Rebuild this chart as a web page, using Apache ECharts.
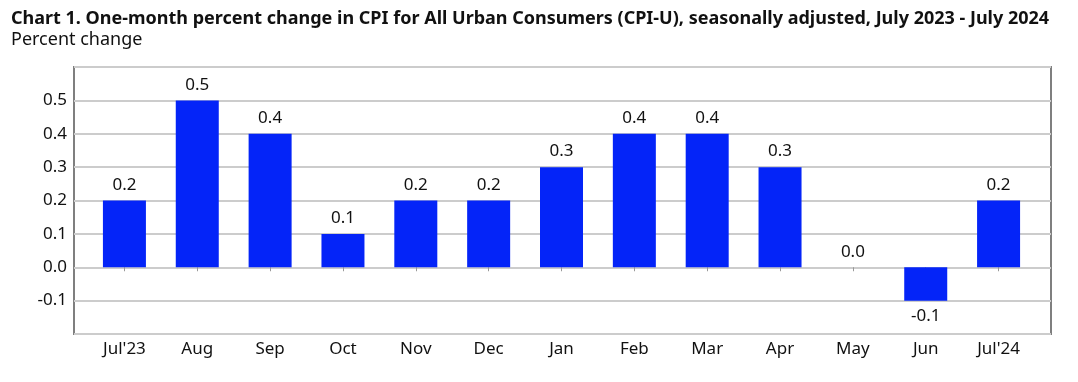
<!DOCTYPE html>
<html><head><meta charset="utf-8">
<script src="https://cdn.jsdelivr.net/npm/echarts@6/dist/echarts.min.js"></script>
<style>html,body{margin:0;padding:0;background:#fff}#c{width:1078px;height:382px}</style>
</head><body><div id="c"></div>
<script>
const categories = ["Jul'23","Aug","Sep","Oct","Nov","Dec","Jan","Feb","Mar","Apr","May","Jun","Jul'24"];
const values = [0.2,0.5,0.4,0.1,0.2,0.2,0.3,0.4,0.4,0.3,0.0,-0.1,0.2];
const yTickLabels = ["-0.1","0.0","0.1","0.2","0.3","0.4","0.5"];
const titleText = "Chart 1. One-month percent change in CPI for All Urban Consumers (CPI-U), seasonally adjusted, July 2023 - July 2024";
const subtitleText = "Percent change";

const FONT = "Noto Sans";
const chart = echarts.init(document.getElementById('c'), null, {renderer:'canvas'});
const yMin = -0.2, yMax = 0.6;
chart.setOption({
  animation:false,
  textStyle:{fontFamily:FONT},
  title:{text:titleText, subtext:subtitleText, left:6, top:5, itemGap:3,
    textStyle:{fontFamily:FONT,fontSize:18,fontWeight:'bold',color:'#111'},
    subtextStyle:{fontFamily:FONT,fontSize:18,color:'#111'}},
  grid:[
    {left:74,right:27,top:67,bottom:48,show:true,borderColor:'#7f7f7f',borderWidth:2,backgroundColor:'transparent'},
    {left:88,right:43,top:67,bottom:48}
  ],
  xAxis:[
    {gridIndex:0,type:'value',min:0,max:1,show:false},
    {gridIndex:1,type:'category',data:categories,boundaryGap:true,
      axisLine:{show:false},
      axisTick:{show:true,alignWithLabel:true,length:4,inside:false,lineStyle:{color:'#999'}},
      axisLabel:{fontSize:17,color:'#111',margin:7,fontFamily:FONT}}
  ],
  yAxis:[
    {gridIndex:0,type:'value',min:yMin,max:yMax,interval:0.1,
      axisLine:{show:false},axisTick:{show:false},
      splitLine:{show:true,lineStyle:{color:'#cccccc',width:2}},
      axisLabel:{fontSize:17,color:'#111',margin:7,fontFamily:FONT,
        formatter:v=>{const s=v.toFixed(1);return yTickLabels.includes(s)?s:'';}}},
    {gridIndex:1,type:'value',min:yMin,max:yMax,interval:0.1,show:false,splitLine:{show:false}}
  ],
  series:[{
    type:'bar',xAxisIndex:1,yAxisIndex:1,barWidth:43,
    data:values.map(v=>({value:v,label:{position:v<0?'bottom':'top'}})),
    itemStyle:{color:'#0424f8'},
    label:{show:true,fontSize:17,color:'#111',distance:7,fontFamily:FONT,formatter:p=>p.value.toFixed(1)}
  }]
});
</script></body></html>
